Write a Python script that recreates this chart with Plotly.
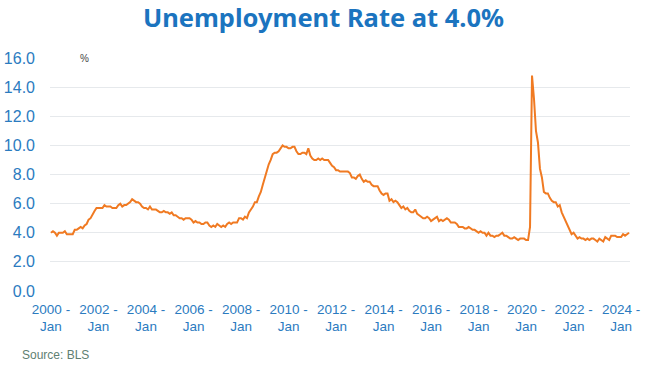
import plotly.graph_objects as go

years = list(range(2000, 2025))
month_names = ["Jan", "Feb", "Mar", "Apr", "May", "Jun", "Jul", "Aug", "Sep", "Oct", "Nov", "Dec"]

rate_2000 = [4.0, 4.1, 4.0, 3.8, 4.0, 4.0, 4.0, 4.1, 3.9, 3.9, 3.9, 3.9]
rate_2001 = [4.2, 4.2, 4.3, 4.4, 4.3, 4.5, 4.6, 4.9, 5.0, 5.3, 5.5, 5.7]
rate_2002 = [5.7, 5.7, 5.7, 5.9, 5.8, 5.8, 5.8, 5.7, 5.7, 5.7, 5.9, 6.0]
rate_2003 = [5.8, 5.9, 5.9, 6.0, 6.1, 6.3, 6.2, 6.1, 6.1, 6.0, 5.8, 5.7]
rate_2004 = [5.7, 5.6, 5.8, 5.6, 5.6, 5.6, 5.5, 5.4, 5.4, 5.5, 5.4, 5.4]
rate_2005 = [5.3, 5.4, 5.2, 5.2, 5.1, 5.0, 5.0, 4.9, 5.0, 5.0, 5.0, 4.9]
rate_2006 = [4.7, 4.8, 4.7, 4.7, 4.6, 4.6, 4.7, 4.7, 4.5, 4.4, 4.5, 4.4]
rate_2007 = [4.6, 4.5, 4.4, 4.5, 4.4, 4.6, 4.7, 4.6, 4.7, 4.7, 4.7, 5.0]
rate_2008 = [5.0, 4.9, 5.1, 5.0, 5.4, 5.6, 5.8, 6.1, 6.1, 6.5, 6.8, 7.3]
rate_2009 = [7.8, 8.3, 8.7, 9.0, 9.4, 9.5, 9.5, 9.6, 9.8, 10.0, 9.9, 9.9]
rate_2010 = [9.8, 9.8, 9.9, 9.9, 9.6, 9.4, 9.4, 9.5, 9.5, 9.4, 9.8, 9.3]
rate_2011 = [9.1, 9.0, 9.0, 9.1, 9.0, 9.1, 9.0, 9.0, 9.0, 8.8, 8.6, 8.5]
rate_2012 = [8.3, 8.3, 8.2, 8.2, 8.2, 8.2, 8.2, 8.1, 7.8, 7.8, 7.7, 7.9]
rate_2013 = [8.0, 7.7, 7.5, 7.6, 7.5, 7.5, 7.3, 7.2, 7.2, 7.2, 6.9, 6.7]
rate_2014 = [6.6, 6.7, 6.7, 6.2, 6.3, 6.1, 6.2, 6.1, 5.9, 5.7, 5.8, 5.6]
rate_2015 = [5.7, 5.5, 5.4, 5.4, 5.6, 5.3, 5.2, 5.1, 5.0, 5.0, 5.1, 5.0]
rate_2016 = [4.8, 4.9, 5.0, 5.1, 4.8, 4.9, 4.8, 4.9, 5.0, 4.9, 4.7, 4.7]
rate_2017 = [4.7, 4.6, 4.4, 4.4, 4.4, 4.3, 4.3, 4.4, 4.3, 4.2, 4.2, 4.1]
rate_2018 = [4.0, 4.1, 4.0, 4.0, 3.8, 4.0, 3.8, 3.8, 3.7, 3.8, 3.8, 3.9]
rate_2019 = [4.0, 3.8, 3.8, 3.7, 3.6, 3.6, 3.7, 3.6, 3.5, 3.6, 3.6, 3.6]
rate_2020 = [3.5, 3.5, 4.4, 14.8, 13.2, 11.0, 10.2, 8.4, 7.8, 6.8, 6.7, 6.7]
rate_2021 = [6.4, 6.2, 6.1, 6.1, 5.8, 5.9, 5.4, 5.1, 4.7, 4.5, 4.2, 3.9]
rate_2022 = [4.0, 3.8, 3.6, 3.7, 3.6, 3.6, 3.5, 3.6, 3.5, 3.6, 3.6, 3.5]
rate_2023 = [3.4, 3.6, 3.5, 3.4, 3.7, 3.6, 3.5, 3.8, 3.8, 3.8, 3.7, 3.7]
rate_2024 = [3.7, 3.9, 3.8, 3.9, 4.0]

yearly = [rate_2000, rate_2001, rate_2002, rate_2003, rate_2004, rate_2005, rate_2006,
          rate_2007, rate_2008, rate_2009, rate_2010, rate_2011, rate_2012, rate_2013,
          rate_2014, rate_2015, rate_2016, rate_2017, rate_2018, rate_2019, rate_2020,
          rate_2021, rate_2022, rate_2023, rate_2024]

categories = []
values = []
for y, vals in zip(years, yearly):
    for m, v in zip(month_names, vals):
        categories.append(f"{y} - {m}")
        values.append(v)

tick_years = list(range(2000, 2025, 2))
tick_vals = [f"{y} - Jan" for y in tick_years]
tick_text = [f"{y} -<br>Jan" for y in tick_years]

y_ticks = [0, 2, 4, 6, 8, 10, 12, 14, 16]
y_tick_text = [f"{v:.1f}" for v in y_ticks]

blue = "#2b7bbf"

fig = go.Figure()
fig.add_trace(go.Scatter(
    x=categories, y=values, mode="lines",
    line=dict(color="#f07a22", width=2),
    hoverinfo="x+y", showlegend=False,
))

fig.update_layout(
    width=656, height=376,
    margin=dict(l=50, r=26, t=58, b=85),
    paper_bgcolor="white", plot_bgcolor="white",
    title=dict(text="<b>Unemployment Rate at 4.0%</b>", x=323.5 / 656, xanchor="center",
               y=1 - 18.5 / 376, yanchor="middle",
               font=dict(family="Noto Sans", size=25.5, color="#1b74bf")),
    xaxis=dict(type="category", tickmode="array", tickvals=tick_vals, ticktext=tick_text,
               range=[-0.5, len(categories) - 0.5], showgrid=False, zeroline=False,
               showline=False, ticks="", tickangle=0, automargin=False,
               ticklabelstandoff=8,
               tickfont=dict(family="Liberation Sans", size=13.5, color=blue)),
    yaxis=dict(range=[0, 16], tickmode="array", tickvals=y_ticks, ticktext=y_tick_text,
               showgrid=True, gridcolor="#e6e9ec", gridwidth=1, zeroline=False,
               showline=False, ticks="", ticklabelstandoff=14, automargin=False,
               tickfont=dict(family="Liberation Sans", size=16, color=blue)),
    annotations=[
        dict(text="%", x=0.06, y=16, xref="paper", yref="y", showarrow=False,
             xanchor="center", yanchor="middle",
             font=dict(family="Liberation Sans", size=10, color="#444444")),
        dict(text="Source: BLS", x=-30 / 580, y=-64 / 233,
             xref="paper", yref="paper", showarrow=False,
             xanchor="left", yanchor="middle",
             font=dict(family="Liberation Sans", size=12, color="#5f7f72")),
    ],
)

# remove the browser's default 8px body margin so the figure sits at the page origin
fig.write_html("out.html", config={"displayModeBar": False},
               post_script="document.body.style.margin='0';")
